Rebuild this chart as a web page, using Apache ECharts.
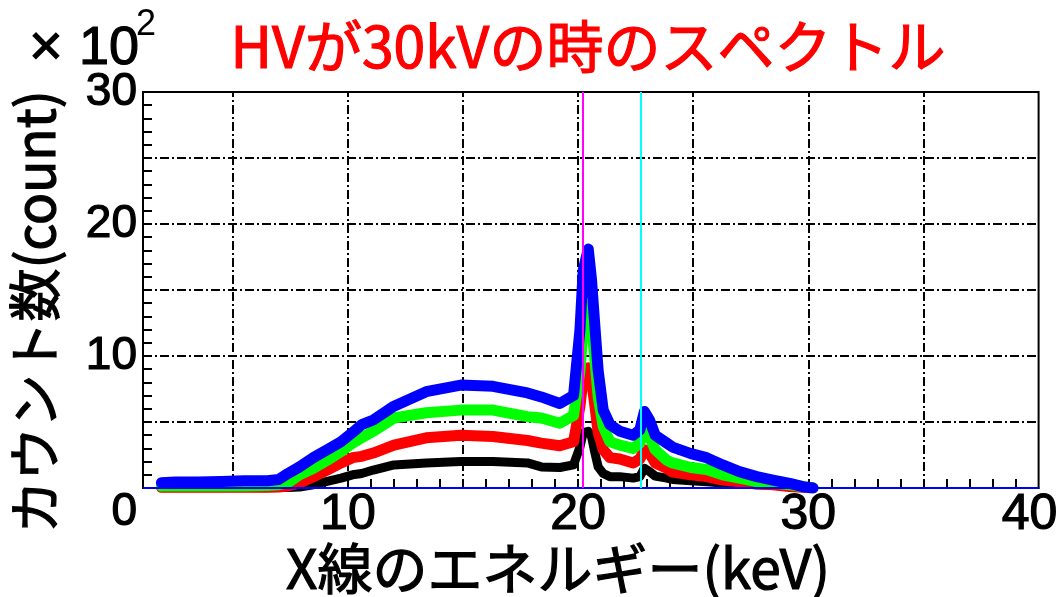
<!DOCTYPE html>
<html>
<head>
<meta charset="utf-8">
<script src="https://cdn.jsdelivr.net/npm/echarts@6/dist/echarts.min.js"></script>
<style>
  html, body { margin: 0; padding: 0; background: #ffffff; }
  #chart { width: 1061px; height: 597px; }
</style>
</head>
<body>
<div id="chart"></div>
<script>
// X-ray energy (keV) of each sampled bin
const energy = [1.9, 2.5, 3.5, 4.5, 5.5, 6.5, 7.0, 7.4, 7.9, 8.5, 9.1, 9.7, 10.2, 10.6, 11.1, 12.0,
  13.4, 14.9, 16.3, 17.8, 18.4, 19.2, 19.8, 20.08, 20.22, 20.44, 20.58, 20.73, 20.87, 21.09, 21.38,
  21.81, 22.39, 22.68, 22.88, 23.1, 23.35, 23.85, 24.1, 24.9, 25.58, 26.28, 27.0, 27.76, 28.46,
  29.19, 29.76, 30.2];

// counts in units of 10^2, one spectrum per colour
const countsBlue = [0.4, 0.45, 0.45, 0.5, 0.55, 0.55, 0.65, 1.1, 1.6, 2.3, 2.9, 3.5, 4.2, 4.8, 5.15, 6.2,
  7.3, 7.8, 7.7, 7.2, 6.9, 6.4, 7.0, 12.0, 16.5, 18.1, 15.8, 12.2, 8.9, 5.9, 4.8,
  4.3, 4.0, 4.4, 5.8, 5.15, 4.0, 3.4, 3.1, 2.6, 2.3, 1.75, 1.24, 0.86, 0.6,
  0.35, 0.1, 0];
const countsGreen = [0.15, 0.15, 0.15, 0.15, 0.15, 0.18, 0.25, 0.4, 1.0, 1.5, 2.1, 2.75, 3.4, 3.8, 4.3, 5.3,
  5.7, 5.9, 5.9, 5.4, 5.3, 4.9, 5.5, 8.9, 12.0, 13.8, 12.5, 9.7, 6.9, 4.65, 3.5,
  3.25, 3.0, 3.4, 4.6, 3.9, 2.9, 2.1, 1.9, 1.55, 1.4, 1.0, 0.75, 0.48, 0.38,
  0.25, 0.1, 0];
const countsRed = [0.05, 0.05, 0.05, 0.05, 0.05, 0.06, 0.08, 0.15, 0.38, 0.86, 1.36, 1.9, 2.3, 2.4, 2.65, 3.25,
  3.8, 4.0, 3.9, 3.6, 3.4, 3.2, 3.5, 6.2, 8.4, 9.1, 8.2, 6.2, 4.2, 2.9, 2.3,
  2.2, 1.9, 2.2, 2.9, 2.65, 1.9, 1.5, 1.2, 1.0, 0.86, 0.6, 0.48, 0.3, 0.25,
  0.12, 0.05, 0];
const countsBlack = [0.02, 0.02, 0.02, 0.02, 0.02, 0.02, 0.03, 0.04, 0.08, 0.25, 0.5, 0.75, 1.0, 1.1, 1.36, 1.75,
  1.9, 2.0, 2.0, 1.9, 1.6, 1.55, 1.75, 3.1, 4.2, 4.3, 3.9, 2.65, 1.6, 1.1, 0.86,
  0.86, 0.75, 0.86, 1.5, 1.25, 0.9, 0.75, 0.65, 0.55, 0.48, 0.38, 0.3, 0.25, 0.2,
  0.1, 0.05, 0];

// axis ticks, labels and grid positions
const xLabelValues = [10, 20, 30, 40];
const xMinorTicks = [2, 3, 4, 5, 6, 7, 8, 9, 10, 11, 12, 13, 14, 15, 16, 17, 18, 19, 20, 21,
  22, 23, 24, 25, 26, 27, 28, 29, 30, 31, 32, 33, 34, 35, 36, 37, 38, 39];
const yLabelValues = [0, 10, 20, 30];
const xGridValues = [5, 10, 15, 20, 25, 30, 35];
const yGridValues = [5, 10, 15, 20, 25];
// Rh K-alpha and K-beta line energies (keV)
const lineKalpha = 20.21;
const lineKbeta = 22.72;

const numFont = '"Liberation Sans", Arial, sans-serif';
const jpFont = '"Noto Sans CJK JP", sans-serif';
const dashDot = [9, 3, 2, 3];
// slightly heavier than regular weight
const heavy = { textBorderColor: '#000000', textBorderWidth: 1.2 };

function pairs(ys) { return energy.map((e, i) => [e, ys[i]]); }

function spectrum(name, color, ys, width, extra) {
  return Object.assign({
    name: name,
    type: 'line',
    data: pairs(ys),
    showSymbol: false,
    symbol: 'none',
    clip: true,
    silent: true,
    lineStyle: { color: color, width: width, join: 'round', cap: 'round' },
    z: 2
  }, extra || {});
}

function textEl(x, y, text, font, color, align, rotation) {
  return {
    type: 'text', x: x, y: y, rotation: rotation || 0,
    style: {
      text: text, font: font, fill: color, align: align, verticalAlign: 'middle',
      stroke: color, lineWidth: 1.2
    }
  };
}

const chart = echarts.init(document.getElementById('chart'), null, { renderer: 'canvas' });

chart.setOption({
  animation: false,
  backgroundColor: '#ffffff',
  grid: {
    left: 143, top: 92, right: 22, bottom: 109,
    show: true, borderColor: '#000000', borderWidth: 2, backgroundColor: 'transparent'
  },
  xAxis: {
    type: 'value',
    min: 1.1, max: 40,
    axisLine: { show: true, lineStyle: { color: '#000000', width: 2 } },
    axisTick: {
      show: true, inside: true, length: 9, customValues: xMinorTicks,
      lineStyle: { color: '#000000', width: 2 }
    },
    axisLabel: Object.assign({
      show: true, customValues: xLabelValues, margin: 2,
      color: '#000000', fontFamily: numFont, fontSize: 50,
      formatter: function (v) { return v === 40 ? '{r|40}' : String(v); },
      rich: { r: Object.assign({ padding: [0, 18, 0, 0], fontFamily: numFont, fontSize: 50, color: '#000000' }, heavy) }
    }, heavy),
    splitLine: { show: false }
  },
  yAxis: {
    type: 'value',
    min: 0, max: 30, interval: 1,
    axisLine: { show: true, lineStyle: { color: '#000000', width: 2 } },
    axisTick: { show: true, inside: true, length: 9, lineStyle: { color: '#000000', width: 2 } },
    axisLabel: Object.assign({
      show: true, margin: 6, color: '#000000', fontFamily: numFont, fontSize: 46,
      formatter: function (v) {
        if (yLabelValues.indexOf(v) < 0) return '';
        return v === 0 ? '{z|0}' : String(v);
      },
      rich: { z: Object.assign({ padding: [48, 0, 0, 0], fontFamily: numFont, fontSize: 46, color: '#000000' }, heavy) }
    }, heavy),
    splitLine: { show: false }
  },
  graphic: [
    textEl(588, 46, 'HVが30kVの時のスペクトル', 'normal 57px ' + jpFont, '#ff0000', 'center'),
    textEl(558, 568, 'X線のエネルギー(keV)', 'normal 55px ' + jpFont, '#000000', 'center'),
    textEl(35, 312, 'カウント数(count)', 'normal 53px ' + jpFont, '#000000', 'center', Math.PI / 2),
    textEl(46, 49, '×', 'normal 58px ' + numFont, '#000000', 'center'),
    textEl(79, 49, '10', 'normal 54px ' + numFont, '#000000', 'left'),
    {
      type: 'text', x: 136, y: 25,
      style: { text: '2', font: 'normal 36px ' + numFont, fill: '#000000', align: 'left', verticalAlign: 'middle' }
    }
  ],
  series: [
    spectrum('black', '#000000', countsBlack, 9, {
      markLine: {
        silent: true, z: 1, symbol: ['none', 'none'], label: { show: false },
        lineStyle: { color: '#000000', width: 2, type: dashDot },
        emphasis: { disabled: true },
        data: xGridValues.map(v => ({ xAxis: v })).concat(yGridValues.map(v => ({ yAxis: v })))
      }
    }),
    spectrum('red', '#ff0000', countsRed, 11),
    spectrum('green', '#00ff00', countsGreen, 11),
    spectrum('blue', '#0000ff', countsBlue, 11, {
      markLine: {
        silent: true, z: 10, symbol: ['none', 'none'], label: { show: false },
        emphasis: { disabled: true },
        data: [
          { yAxis: 0, lineStyle: { color: '#0000ff', width: 2, type: 'solid' } },
          { xAxis: lineKalpha, lineStyle: { color: '#ff00ff', width: 2, type: 'solid' } },
          { xAxis: lineKbeta, lineStyle: { color: '#00ffff', width: 2, type: 'solid' } }
        ]
      }
    })
  ]
});
</script>
</body>
</html>
